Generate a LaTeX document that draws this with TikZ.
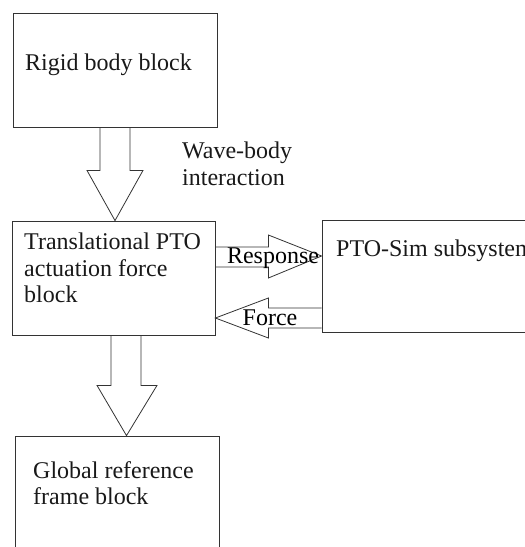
\documentclass[tikz,border=0pt]{standalone}
\usepackage{fontspec}
\setmainfont{Liberation Serif}
\usepackage{tikz}
\usetikzlibrary{calc}

\tikzset{
  blk/.style={draw=black!80,line width=0.8pt,inner sep=0pt},
  txt/.style={anchor=west,align=left,inner sep=0pt,text=black!90},
  fat/.style={draw=black!80,line width=0.8pt,line join=miter},
}

\begin{document}
\begin{tikzpicture}[x=1pt,y=-1pt]
  \fontsize{24}{26.5}\selectfont
  \useasboundingbox (0,0) rectangle (525,547);
  \clip (0,0) rectangle (525,547);

  \node (rigid) at (115,70) [blk,minimum width=204pt,minimum height=114pt] {};
  \node (trans) at (113.5,278) [blk,minimum width=203pt,minimum height=114pt] {};
  \node (ptosim) at (451,276) [blk,minimum width=258pt,minimum height=112pt] {};
  \node (global) at (117,528) [blk,minimum width=204pt,minimum height=184pt] {};

  \node (rigidtxt) at (25,65) [txt] {Rigid body block};
  \node (transtxt) at (24,268) [txt] {Translational PTO\\actuation force\\block};
  \node (ptotxt) at (336,251) [txt] {PTO-Sim subsystem};
  \node (globaltxt) at (33,483) [txt] {Global reference\\frame block};
  \node (wavetxt) at (182,164) [txt] {Wave-body\\interaction};

  % block arrows
  \draw[fat] ($(rigid.south)+(-15,0)$) -- ++(0,43) -- ++(-13,0)
    -- (rigid.south |- trans.north) -- ($(rigid.south)+(28,43)$) -- ++(-13,0)
    -- ($(rigid.south)+(15,0)$);

  \coordinate (tip2) at ($(trans.south)+(13,0)$);
  \draw[fat] ($(trans.south)+(-2.5,0)$) -- ++(0,50) -- ++(-14,0)
    -- (tip2 |- global.north) -- ($(trans.south)+(43.5,50)$) -- ++(-16,0)
    -- ($(trans.south)+(27.5,0)$);

  \draw[fat] ($(trans.east)+(0,-31)$) -- ++(53,0) -- ++(0,-12)
    -- ($(ptosim.west)+(0,-20)$) -- ($(trans.east)+(53,0)$) -- ++(0,-11)
    -- ($(trans.east)+(0,-11)$);

  \draw[fat] ($(ptosim.west)+(0,32)$) -- ($(trans.east)+(53,30)$) -- ++(0,-10)
    -- ($(trans.east)+(0,40)$) -- ($(trans.east)+(53,60)$) -- ++(0,-10)
    -- ($(ptosim.west)+(0,52)$);

  \node (lresp) at (273,258) [inner sep=0pt] {Response};
  \node (lforce) at (270,318) [inner sep=0pt] {Force};
\end{tikzpicture}
\end{document}
